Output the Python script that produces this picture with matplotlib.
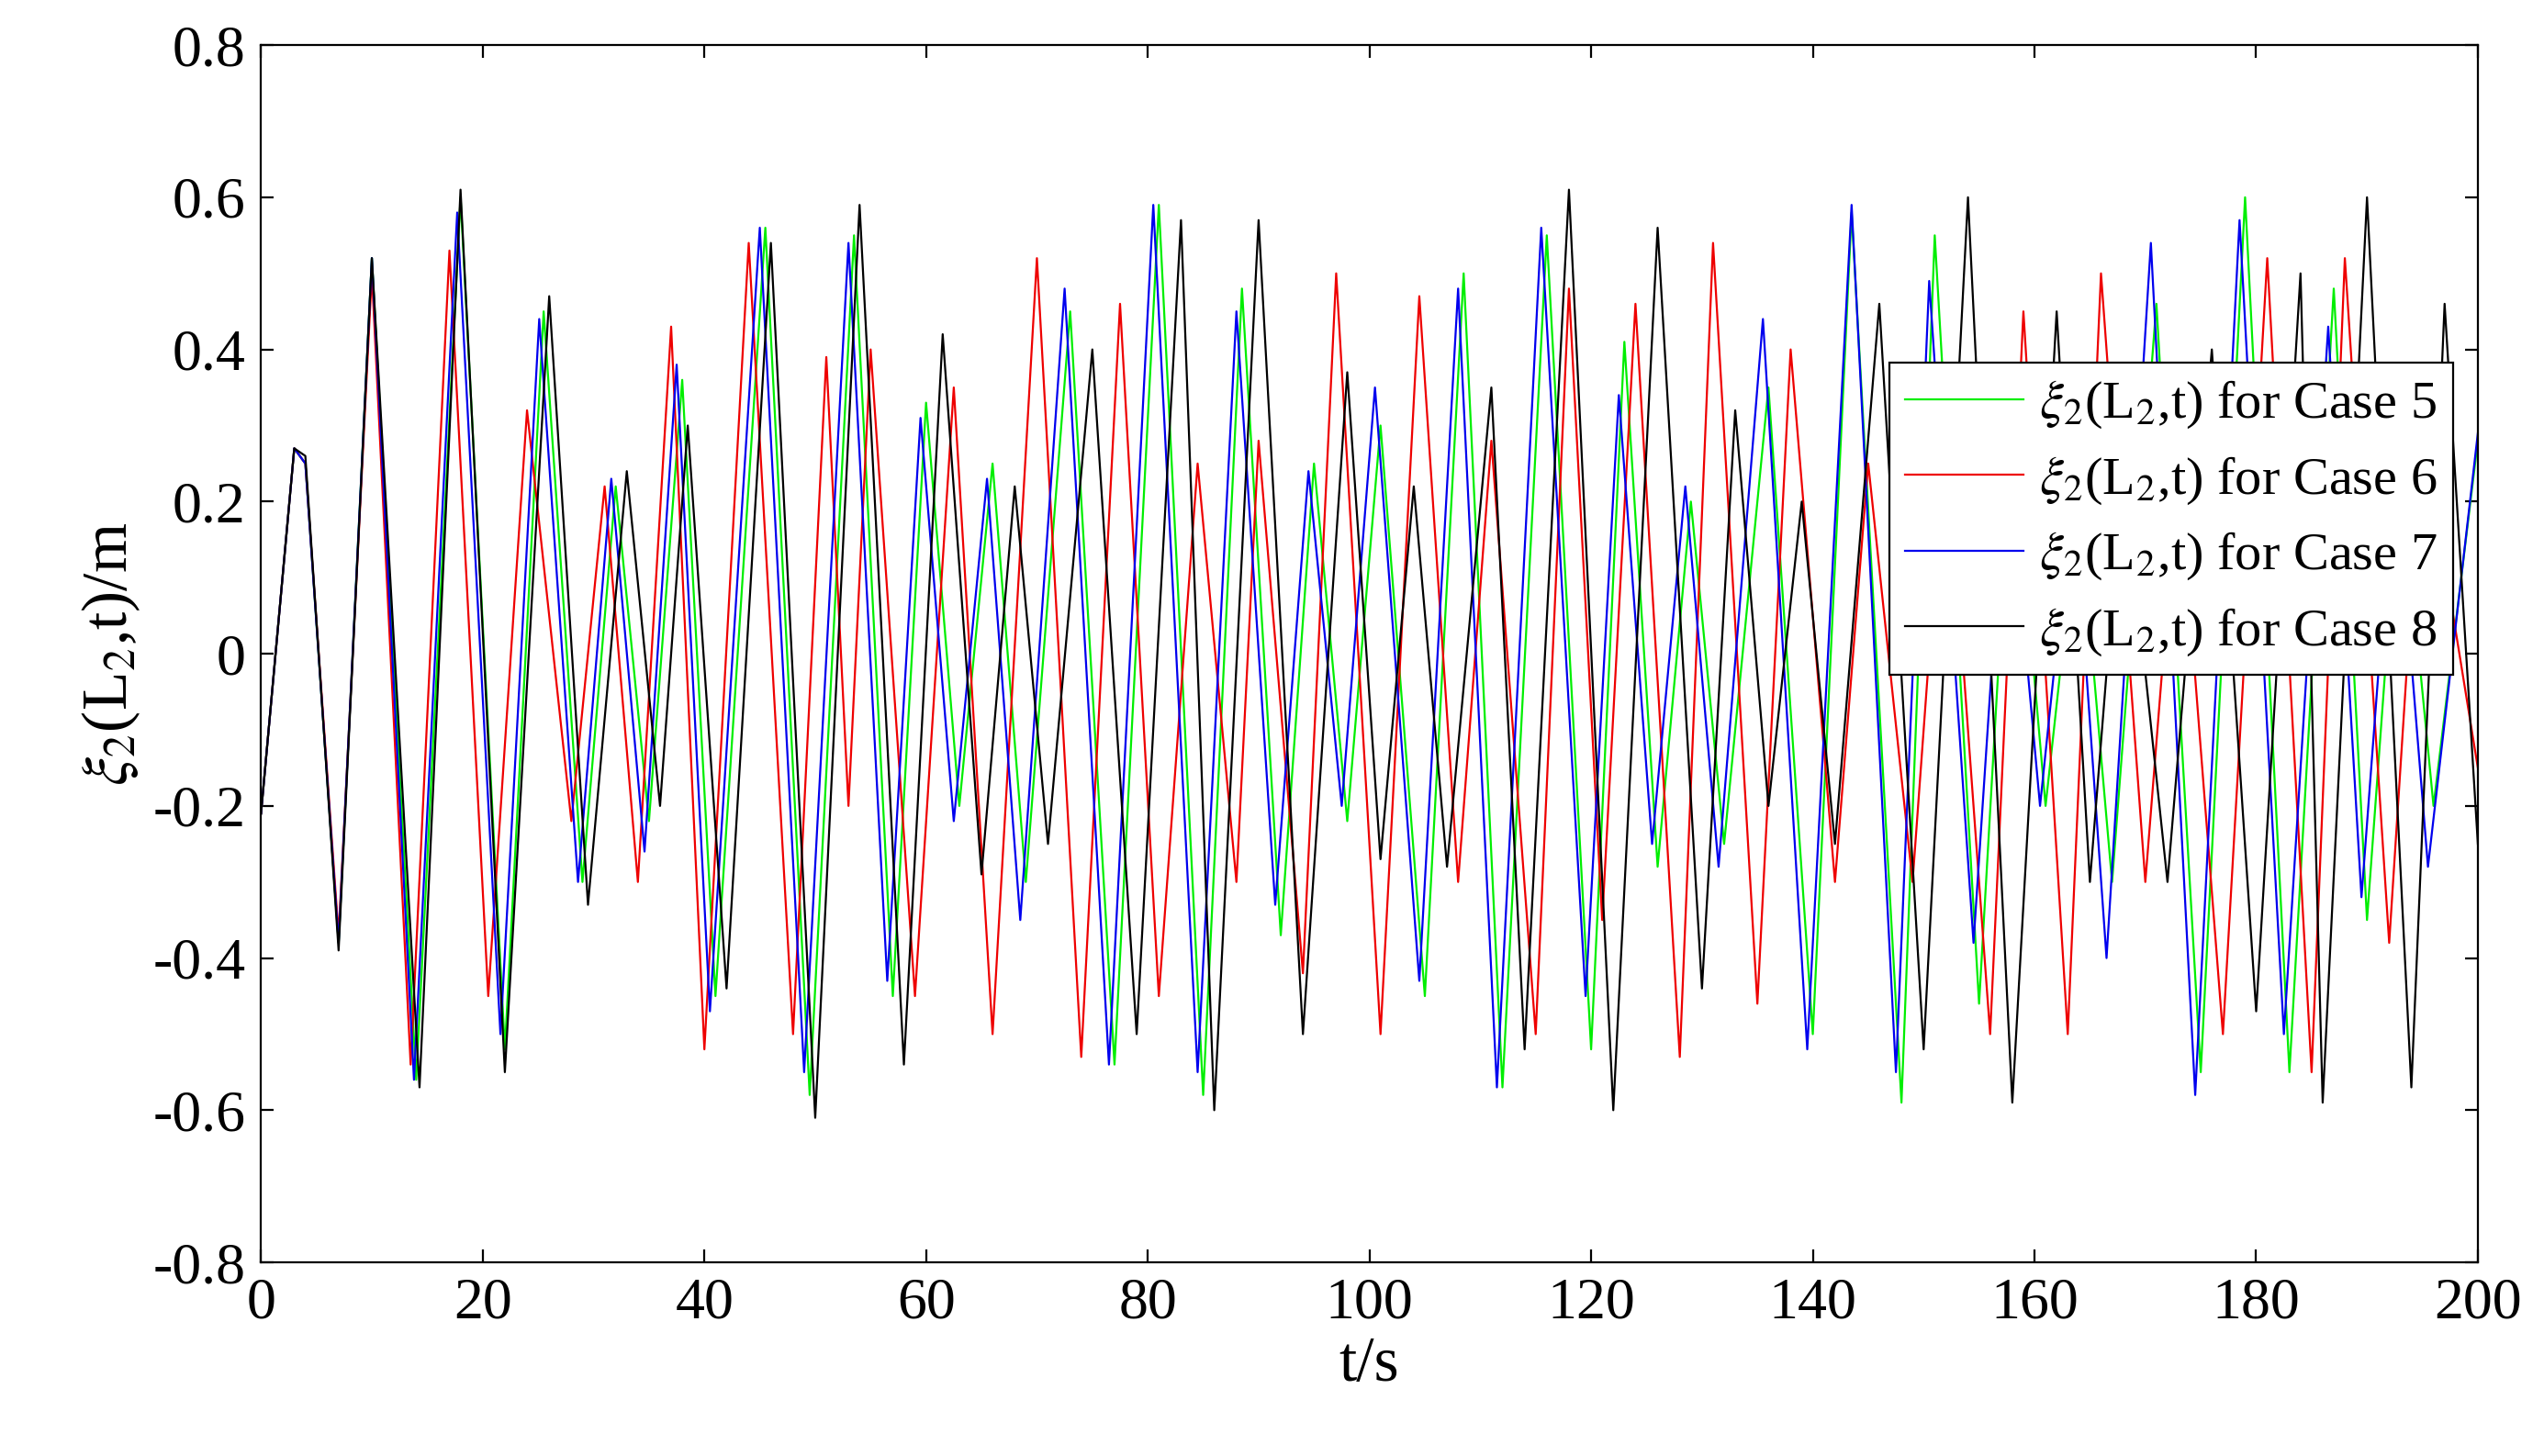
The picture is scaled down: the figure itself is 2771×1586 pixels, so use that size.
import matplotlib
matplotlib.use("Agg")
import matplotlib.pyplot as plt

# extrema (time s, displacement m)
t5 = [0,3,4,7,10,14,18,22,25.5,29,32,35,38,41,45.5,49.5,53.5,57,60,63,66,69,73,77,81,85,88.5,92,95,98,101,105,108.5,112,116,120,123,126,129,132,136,140,143.5,148,151,155,158,161,164,167,171,175,179,183,187,190,193,196,200]
y5 = [-0.21,0.27,0.25,-0.38,0.52,-0.56,0.6,-0.52,0.45,-0.3,0.22,-0.22,0.36,-0.45,0.56,-0.58,0.55,-0.45,0.33,-0.2,0.25,-0.3,0.45,-0.54,0.59,-0.58,0.48,-0.37,0.25,-0.22,0.3,-0.45,0.5,-0.57,0.55,-0.52,0.41,-0.28,0.2,-0.25,0.35,-0.5,0.58,-0.59,0.55,-0.46,0.3,-0.2,0.2,-0.3,0.46,-0.55,0.6,-0.55,0.48,-0.35,0.25,-0.2,0.28]
t6 = [0,3,4,7,10,13.5,17,20.5,24,28,31,34,37,40,44,48,51,53,55,59,62.5,66,70,74,77.5,81,84.5,88,90,94,97,101,104.5,108,111,115,118,121,124,128,131,135,138,142,145,149,152,156,159,163,166,170,173,177,181,185,188,192,195,200]
y6 = [-0.21,0.27,0.25,-0.37,0.5,-0.54,0.53,-0.45,0.32,-0.22,0.22,-0.3,0.43,-0.52,0.54,-0.5,0.39,-0.2,0.4,-0.45,0.35,-0.5,0.52,-0.53,0.46,-0.45,0.25,-0.3,0.28,-0.42,0.5,-0.5,0.47,-0.3,0.28,-0.5,0.48,-0.35,0.46,-0.53,0.54,-0.46,0.4,-0.3,0.25,-0.3,0.3,-0.5,0.45,-0.5,0.5,-0.3,0.25,-0.5,0.52,-0.55,0.52,-0.38,0.3,-0.15]
t7 = [0,3,4,7,10,13.8,17.7,21.6,25.1,28.6,31.6,34.6,37.5,40.5,45,49,53,56.5,59.5,62.5,65.5,68.5,72.5,76.5,80.5,84.5,88,91.5,94.5,97.5,100.5,104.5,108,111.5,115.5,119.5,122.5,125.5,128.5,131.5,135.5,139.5,143.5,147.5,150.5,154.5,157.5,160.5,163.5,166.5,170.5,174.5,178.5,182.5,186.5,189.5,192.5,195.5,200]
y7 = [-0.21,0.27,0.25,-0.38,0.52,-0.56,0.58,-0.5,0.44,-0.3,0.23,-0.26,0.38,-0.47,0.56,-0.55,0.54,-0.43,0.31,-0.22,0.23,-0.35,0.48,-0.54,0.59,-0.55,0.45,-0.33,0.24,-0.2,0.35,-0.43,0.48,-0.57,0.56,-0.45,0.34,-0.25,0.22,-0.28,0.44,-0.52,0.59,-0.55,0.49,-0.38,0.28,-0.2,0.22,-0.4,0.54,-0.58,0.57,-0.5,0.43,-0.32,0.26,-0.28,0.29]
t8 = [0,3,4,7,10,14.3,18,22,26,29.5,33,36,38.5,42,46,50,54,58,61.5,65,68,71,75,79,83,86,90,94,98,101,104,107,111,114,118,122,126,130,133,136,139,142,146,150,154,158,162,165,168,172,176,180,184,186,190,194,197,200]
y8 = [-0.21,0.27,0.26,-0.39,0.52,-0.57,0.61,-0.55,0.47,-0.33,0.24,-0.2,0.3,-0.44,0.54,-0.61,0.59,-0.54,0.42,-0.29,0.22,-0.25,0.4,-0.5,0.57,-0.6,0.57,-0.5,0.37,-0.27,0.22,-0.28,0.35,-0.52,0.61,-0.6,0.56,-0.44,0.32,-0.2,0.2,-0.25,0.46,-0.52,0.6,-0.59,0.45,-0.3,0.25,-0.3,0.4,-0.47,0.5,-0.59,0.6,-0.57,0.46,-0.25]

series = [(t5, y5, "#00ee00", "Case 5"), (t6, y6, "#ee0000", "Case 6"),
          (t7, y7, "#0000ee", "Case 7"), (t8, y8, "#000000", "Case 8")]

plt.rcParams['font.family'] = ['Liberation Serif', 'DejaVu Serif']
plt.rcParams['mathtext.fontset'] = 'stix'
fig = plt.figure(figsize=(13.855, 7.93), dpi=200)
ax = fig.add_axes([0.1026, 0.133, 0.8714, 0.836])
for t, y, c, lab in series:
    ax.plot(t, y, color=c, lw=0.8, label=r"$\xi_2$(L$_2$,t) for " + lab)
ax.set_xlim(0, 200)
ax.set_ylim(-0.8, 0.8)
ax.set_xticks(range(0, 201, 20))
ax.set_yticks([-0.8, -0.6, -0.4, -0.2, 0, 0.2, 0.4, 0.6, 0.8])
ax.set_yticklabels(["-0.8", "-0.6", "-0.4", "-0.2", "0", "0.2", "0.4", "0.6", "0.8"])
ax.tick_params(labelsize=23, direction='in', top=True, right=True, length=5, pad=6)
ax.set_xlabel("t/s", fontsize=25, labelpad=2)
ax.set_ylabel(r"$\xi_2$(L$_2$,t)/m", fontsize=25, labelpad=4)
leg = ax.legend(loc='upper right', bbox_to_anchor=(0.989, 0.739), fontsize=21,
                fancybox=False, framealpha=1, edgecolor='black',
                handlelength=2.2, borderpad=0.3, labelspacing=0.45, handletextpad=0.3,
                borderaxespad=0)
leg.get_frame().set_linewidth(0.8)
fig.savefig("out.png", dpi=200)
